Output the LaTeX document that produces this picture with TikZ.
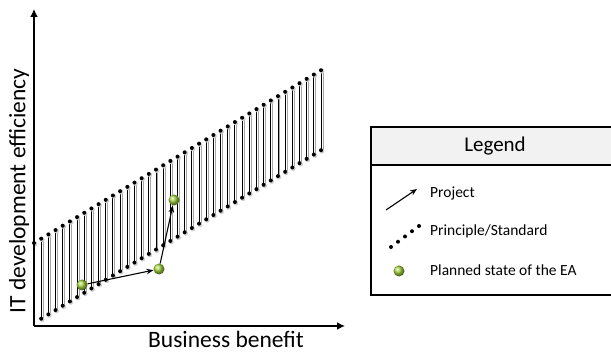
\documentclass[tikz,border=0pt]{standalone}
\usepackage{fontspec}
\setmainfont{Carlito}
\usepackage{xcolor}
\usepackage{tikz}
\usetikzlibrary{
  arrows.meta,
  positioning,
  calc
}
\definecolor{stategreen}{RGB}{160, 210, 60}
\definecolor{legendbg}{RGB}{242, 242, 242}
\tikzset{
  axis/.style    = {-{Latex[length=8pt,width=8pt]}, line width=2.6pt},
  span/.style    = {draw=black, line width=0.9pt},
  spanshade/.style = {draw=black!35, line width=1pt},
  stddot/.style  = {circle, fill=black, inner sep=0pt, minimum size=4pt},
  dotshade/.style = {circle, fill=black!20, inner sep=0pt, minimum size=4.8pt},
  state/.style   = {
    circle, shading=ball, ball color=stategreen,
    inner sep=0pt, minimum size=11pt
  },
  proj/.style    = {-{Stealth[length=7pt,width=5.5pt]}, draw=black, line width=1.1pt},
  axlabel/.style = {font=\fontsize{23.5}{27}\selectfont, inner sep=0pt},
  legtitle/.style = {font=\fontsize{21}{24}\selectfont, inner sep=0pt},
  legtext/.style = {anchor=west, font=\fontsize{15.5}{18}\selectfont, inner sep=0pt},
}

\begin{document}
\begin{tikzpicture}[x=1pt, y=-1pt]
  \useasboundingbox (0,0) rectangle (611,352);

  % corridor of principles/standards
  \foreach \i in {0,...,40} {
    \pgfmathsetmacro\xx{34+\i*7.175}
    \pgfmathsetmacro\yy{243-\i*7.175*0.602}
    \coordinate (t\i) at (\xx,\yy);
    \coordinate (b\i) at (\xx,\yy+80);
  }
  \foreach \i in {1,...,40} {
    \draw[spanshade] ([xshift=2pt]t\i) -- ([xshift=2pt]b\i);
    \draw[span] (t\i) -- (b\i);
  }
  \foreach \i in {0,...,40}
    \node[dotshade] at ([xshift=1pt,yshift=-1pt]t\i) {};
  \foreach \i in {1,...,40}
    \node[dotshade] at ([xshift=1pt,yshift=-1pt]b\i) {};
  \foreach \i in {0,...,40}
    \node[stddot] at (t\i) {};
  \foreach \i in {1,...,40}
    \node[stddot] at (b\i) {};

  % axes
  \coordinate (origin) at (34,326);
  \coordinate (ytip)   at (34,9);
  \coordinate (xtip)   at (345,326);
  \draw[axis] (origin) -- (ytip);
  \draw[axis] (origin) -- (xtip);
  \node[axlabel, rotate=90] (ylab) at (19,191) {IT development efficiency};
  \node[axlabel] (xlab) at (226,339) {Business benefit};

  % planned states and projects
  \node[state] (s1) at (82,285) {};
  \node[state] (s2) at (159,269) {};
  \node[state] (s3) at (174,200) {};
  \draw[proj] (s1) -- (s2);
  \draw[proj] (s2) -- (s3);

  % legend
  \draw[line width=1.8pt, fill=white] (371,127) rectangle (616,295);
  \draw[line width=1.8pt, fill=legendbg] (371,127) rectangle (616,165);
  \node[legtitle] (legend) at (495,146) {Legend};

  \coordinate (pa) at (386,210);
  \coordinate (pb) at (417,189);
  \draw[proj] (pa) -- (pb);
  \node[legtext] (lproj) at (430,193) {Project};

  \foreach \k in {0,...,4}
    \node[stddot] at ($(391,247)!\k/4!(419,226)$) {};
  \node[legtext] (lstd) at (430,231) {Principle/Standard};

  \node[state] (lstate) at (399,271) {};
  \node[legtext] (lplan) at (430,270) {Planned state of the EA};
\end{tikzpicture}
\end{document}
